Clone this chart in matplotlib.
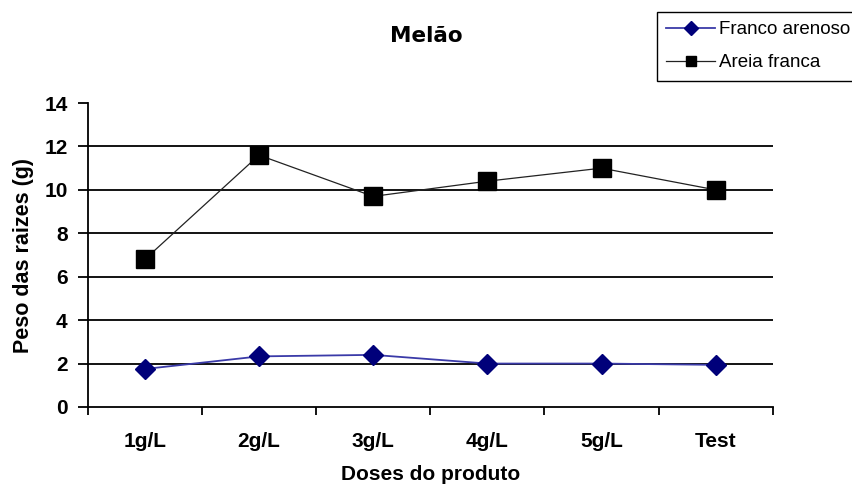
import matplotlib.pyplot as plt
from matplotlib.ticker import FixedLocator

doses = ["1g/L", "2g/L", "3g/L", "4g/L", "5g/L", "Test"]
franco_arenoso = [1.75, 2.33, 2.4, 2.0, 2.0, 1.94]
areia_franca = [6.8, 11.6, 9.7, 10.4, 11.0, 10.0]
y_ticks = [0, 2, 4, 6, 8, 10, 12, 14]

plt.rcParams['font.family'] = ['Liberation Sans', 'DejaVu Sans']

fig = plt.figure(figsize=(8.52, 4.86), dpi=100)
ax = fig.add_axes([0.103, 0.1626, 0.804, 0.6254])

x = list(range(len(doses)))

for yv in y_ticks[1:-1]:
    ax.axhline(yv, color='black', lw=1.3, zorder=1)

ax.plot(x, franco_arenoso, color='#3a3aa8', lw=1.3, marker='D', markersize=10.5,
        markerfacecolor='#00007a', markeredgecolor='#00007a', label='Franco arenoso', zorder=3)
ax.plot(x, areia_franca, color='#222222', lw=0.9, marker='s', markersize=12.5,
        markerfacecolor='black', markeredgecolor='black', label='Areia franca', zorder=3)

ax.set_xlim(-0.5, len(doses) - 0.5)
ax.set_ylim(0, 14)
ax.set_yticks(y_ticks)
ax.set_xticks(x)
ax.set_xticklabels(doses, fontsize=15, fontweight='bold')
ax.xaxis.set_minor_locator(FixedLocator([i - 0.5 for i in range(len(doses) + 1)]))
ax.tick_params(axis='x', which='major', length=0, pad=18)
ax.tick_params(axis='x', which='minor', length=6, width=1.3, direction='out')
ax.tick_params(axis='y', length=7, width=1.3, direction='out', labelsize=15, pad=7.5)
for lbl in ax.get_yticklabels():
    lbl.set_fontweight('bold')

ax.spines['top'].set_visible(False)
ax.spines['right'].set_visible(False)
ax.spines['left'].set_linewidth(1.3)
ax.spines['bottom'].set_linewidth(1.3)

ax.set_ylabel('Peso das raizes (g)', fontsize=15.5, fontweight='bold')
ax.yaxis.set_label_coords(-0.079, 0.5)
ax.set_xlabel('Doses do produto', fontsize=15, fontweight='bold', labelpad=10)
fig.text(0.5, 0.925, 'Melão', ha='center', va='center', fontsize=15.5, fontweight='bold',
         family=['DejaVu Sans'])

leg = fig.legend(loc='upper left', bbox_to_anchor=(0.771, 0.976), fontsize=13.5,
                 frameon=True, fancybox=False, edgecolor='black', framealpha=1,
                 handlelength=2.6, borderpad=0.5, labelspacing=0.85, handletextpad=0.2,
                 borderaxespad=0)
leg.get_frame().set_linewidth(1.0)
for h in leg.legend_handles:
    h.set_markersize(7)

fig.savefig('out.png', dpi=100)
